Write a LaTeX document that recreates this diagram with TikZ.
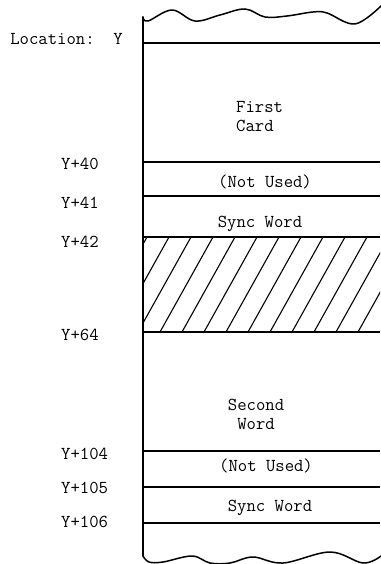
\documentclass[tikz,border=0pt]{standalone}
\usepackage{fontspec}
\usetikzlibrary{arrows.meta,positioning,calc}
\tikzset{
    >=Latex,
    every picture/.style={font=\ttfamily\fontsize{18.2}{22}\selectfont},
    rowline/.style={line width=1.5pt, draw=black},
    edgeline/.style={line width=1.5pt, draw=black, line cap=round},
    wavyline/.style={line width=1.5pt, draw=black, line cap=round, line join=round},
    hatchline/.style={line width=1.1pt, draw=black},
    addr/.style={anchor=base west, inner sep=0pt, text=black},
    field/.style={anchor=base, inner sep=0pt, text=black}
}

\begin{document}
\begin{tikzpicture}[x=1pt, y=-1pt]
    \useasboundingbox (0,0) rectangle (380,564);
    % row boundaries
    \coordinate (rY)   at (143,43);
    \coordinate (r40)  at (143,162);
    \coordinate (r41)  at (143,196);
    \coordinate (r42)  at (143,237);
    \coordinate (r64)  at (143,332);
    \coordinate (r104) at (143,451);
    \coordinate (r105) at (143,487);
    \coordinate (r106) at (143,523);
    % hatched (unused) block
    \begin{scope}
        \clip (r42) rectangle (380,332);
        \foreach \k in {-4,...,10}
            \draw[hatchline] ({160+22*\k},332) -- ++(53,-95);
    \end{scope}
    \foreach \r in {rY,r40,r41,r42,r64,r104,r105,r106}
        \draw[rowline] (\r) -- (\r -| 380,0);
    % left edge and torn ends
    \draw[edgeline] (143,17) -- (143,556);
    \draw[wavyline] plot[smooth, tension=0.6] coordinates {(143,17) (148,21) (172,10) (195,21) (220,15) (245,9) (265,17) (287,16) (313,12) (327,13) (355,24) (381,6)};
    \draw[wavyline] plot[smooth, tension=0.6] coordinates {(143,556) (149,562) (163,562) (192,556) (210,563) (230,563) (253,557) (283,563) (330,552) (363,563) (381,556)};
    % addresses
    \node[anchor=base east, inner sep=0pt] (loc) at (123,45) {Location:\ \ Y};
    \node[addr] (a40)  at (61,169) {Y+40};
    \node[addr] (a41)  at (61,208) {Y+41};
    \node[addr] (a42)  at (61,247) {Y+42};
    \node[addr] (a64)  at (61,340) {Y+64};
    \node[addr] (a104) at (61,459) {Y+104};
    \node[addr] (a105) at (61,493) {Y+105};
    \node[addr] (a106) at (61,527) {Y+106};
    % contents
    \node[addr] (first) at (236,113) {First};
    \node[addr] (card)  at (236,132) {Card};
    \node[field] (nu1)    at (265,187) {(Not Used)};
    \node[field] (sync1)  at (260,227) {Sync Word};
    \node[field] (second) at (256,410) {Second};
    \node[field] (word)   at (256,429) {Word};
    \node[field] (nu2)    at (266,471) {(Not Used)};
    \node[field] (sync2)  at (270,511) {Sync Word};
\end{tikzpicture}
\end{document}
